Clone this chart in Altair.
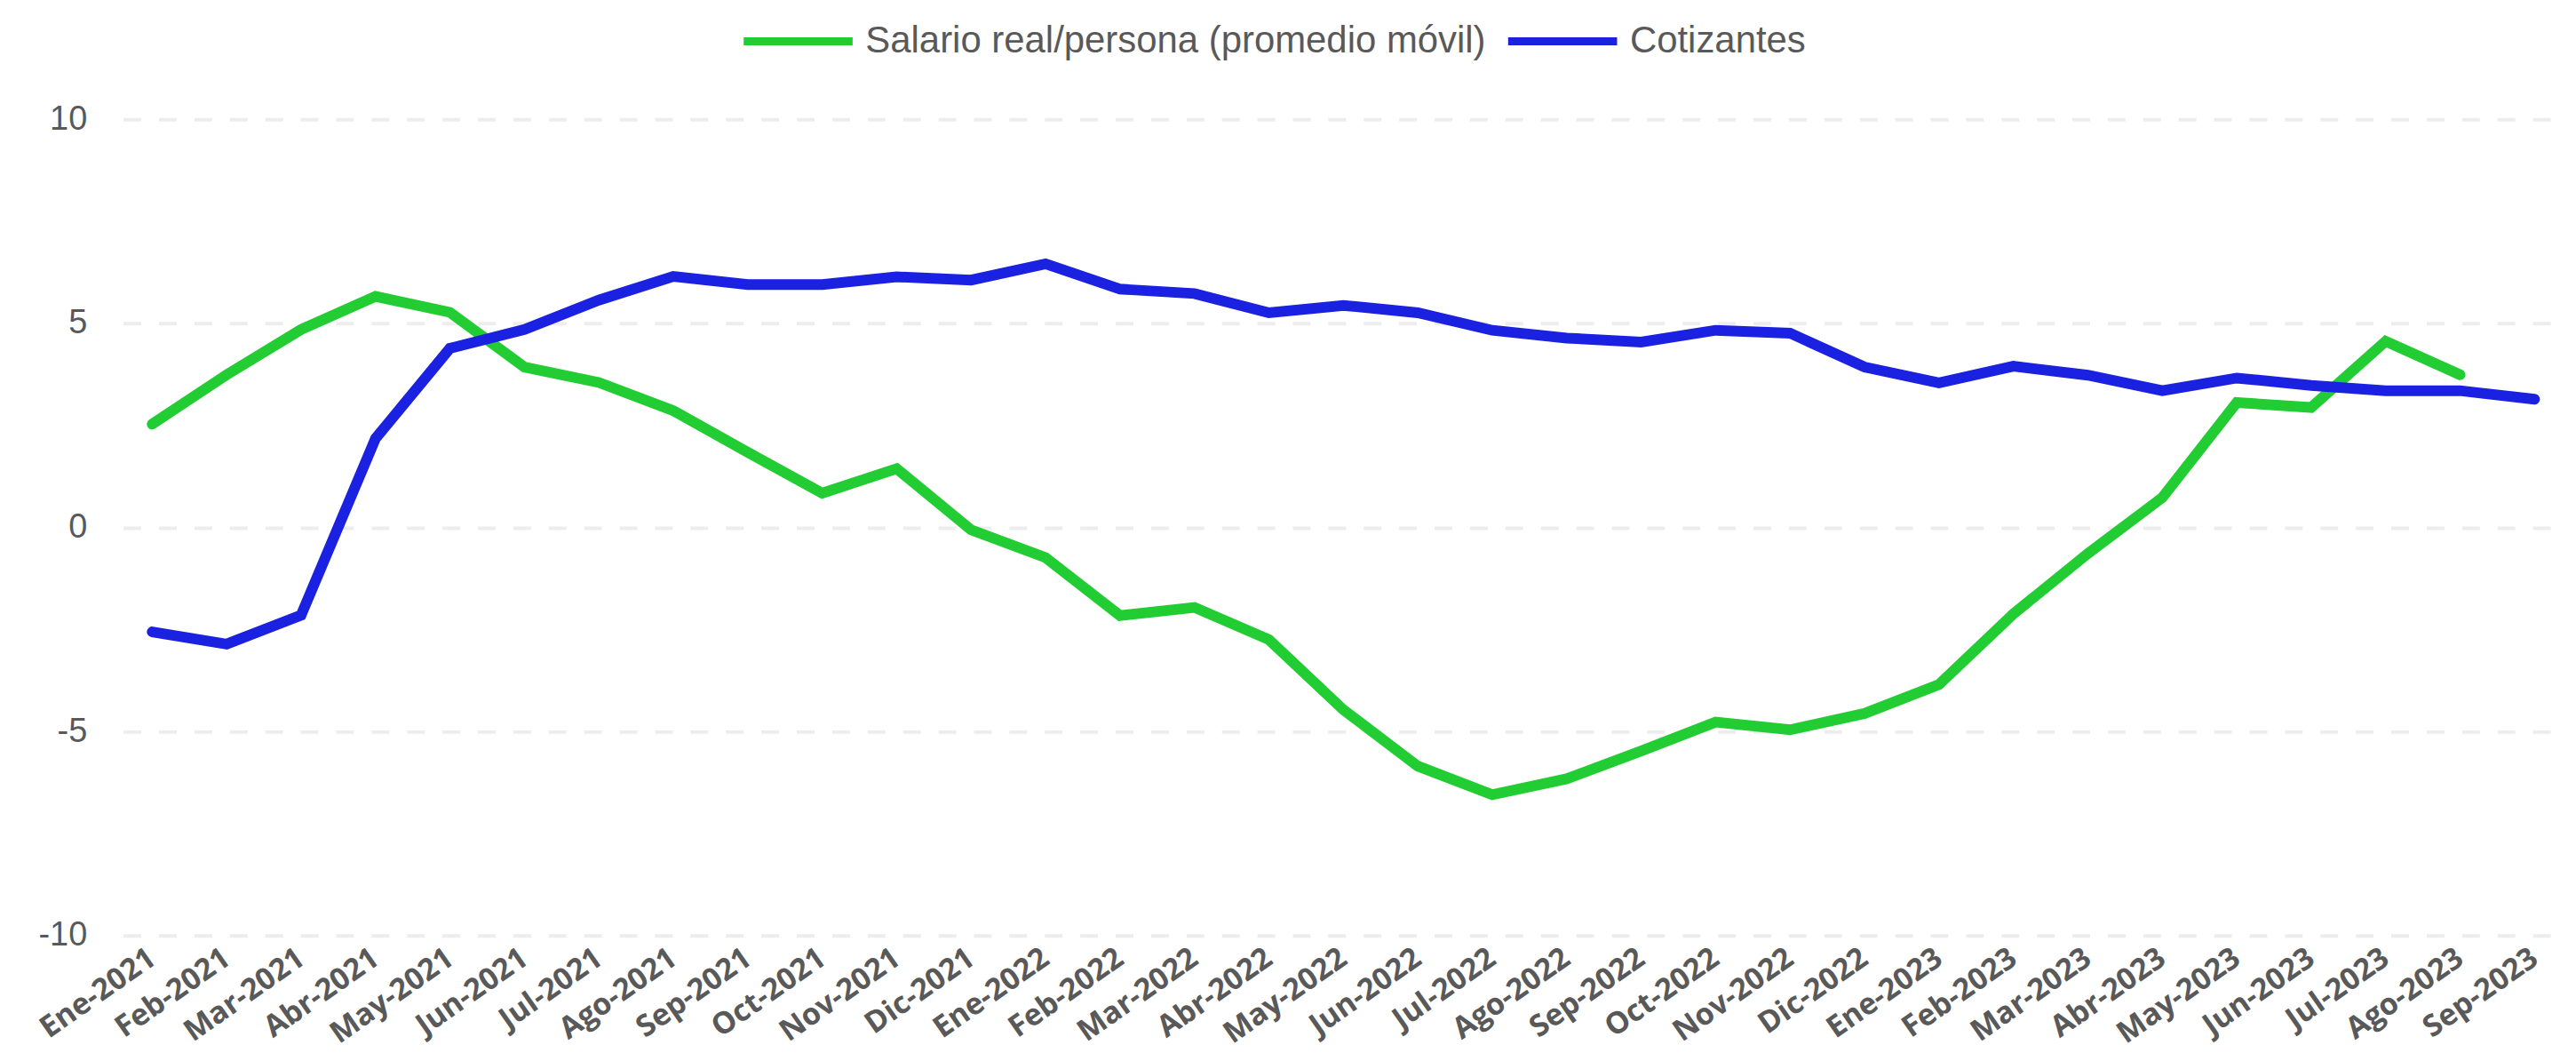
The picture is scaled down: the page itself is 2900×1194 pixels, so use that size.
import altair as alt
import pandas as pd

months = ["Ene-2021", "Feb-2021", "Mar-2021", "Abr-2021", "May-2021", "Jun-2021",
          "Jul-2021", "Ago-2021", "Sep-2021", "Oct-2021", "Nov-2021", "Dic-2021",
          "Ene-2022", "Feb-2022", "Mar-2022", "Abr-2022", "May-2022", "Jun-2022",
          "Jul-2022", "Ago-2022", "Sep-2022", "Oct-2022", "Nov-2022", "Dic-2022",
          "Ene-2023", "Feb-2023", "Mar-2023", "Abr-2023", "May-2023", "Jun-2023",
          "Jul-2023", "Ago-2023", "Sep-2023"]

salario = [2.53, 3.74, 4.85, 5.66, 5.27, 3.93, 3.55, 2.86, 1.84, 0.84, 1.44, -0.06,
           -0.74, -2.16, -1.96, -2.75, -4.47, -5.85, -6.55, -6.16, -5.48, -4.77, -4.96, -4.56,
           -3.85, -2.12, -0.64, 0.73, 3.06, 2.94, 4.56, 3.74]

cotizantes = [-2.56, -2.86, -2.15, 2.18, 4.39, 4.85, 5.57, 6.15, 5.95, 5.95, 6.14, 6.06,
              6.46, 5.84, 5.73, 5.26, 5.44, 5.26, 4.83, 4.64, 4.54, 4.83, 4.76, 3.93,
              3.54, 3.95, 3.73, 3.35, 3.66, 3.48, 3.35, 3.35, 3.14]

SER_SAL = "Salario real/persona (promedio móvil)"
SER_COT = "Cotizantes"
series_names = [SER_SAL, SER_COT]
series_colors = ["#22CC33", "#1A21E0"]
y_ticks = [-10, -5, 0, 5, 10]

rows = []
for name, vals in [(SER_SAL, salario), (SER_COT, cotizantes)]:
    for m, v in zip(months, vals):
        rows.append({"mes": m, "serie": name, "valor": v})
df = pd.DataFrame(rows)

GRAY = "#595959"

chart = alt.Chart(df).mark_line(strokeWidth=12, strokeCap="round").encode(
    x=alt.X("mes:N", sort=months,
            scale=alt.Scale(type="point", padding=0.39),
            axis=alt.Axis(title=None, labelAngle=-35, labelAlign="right", labelBaseline="middle",
                          labelFont="Open Sans", labelFontWeight="bold", labelFontSize=34,
                          labelColor=GRAY, labelPadding=22, ticks=False, domain=False,
                          grid=False, labelOverlap=False, labelBound=False)),
    y=alt.Y("valor:Q",
            scale=alt.Scale(domain=[-10, 10], nice=False, zero=False),
            axis=alt.Axis(title=None, values=y_ticks,
                          labelExpr="toString(datum.value)",
                          labelFont="Liberation Sans Narrow, Liberation Sans",
                          labelFontSize=38, labelColor=GRAY, labelPadding=41,
                          ticks=False, domain=False, grid=True, gridColor="#EDEDED",
                          gridDash=[20, 20], gridWidth=4)),
    color=alt.Color("serie:N",
                    scale=alt.Scale(domain=series_names, range=series_colors),
                    legend=alt.Legend(title=None, orient="none", legendX=696, legendY=-154,
                                      direction="horizontal", symbolType="stroke",
                                      symbolSize=15129, symbolStrokeWidth=9,
                                      labelFont="Liberation Sans", labelFontSize=42,
                                      labelColor=GRAY, labelOffset=10, columnPadding=6,
                                      padding=0, labelLimit=3000)),
).properties(
    width=2755, height=921,
    background="white",
    padding={"left": 131, "top": 125, "right": 6, "bottom": 132},
    autosize=alt.AutoSizeParams(type="none"),
).configure_view(stroke=None)

chart.save("out.html", embed_options={"renderer": "svg", "actions": False})
